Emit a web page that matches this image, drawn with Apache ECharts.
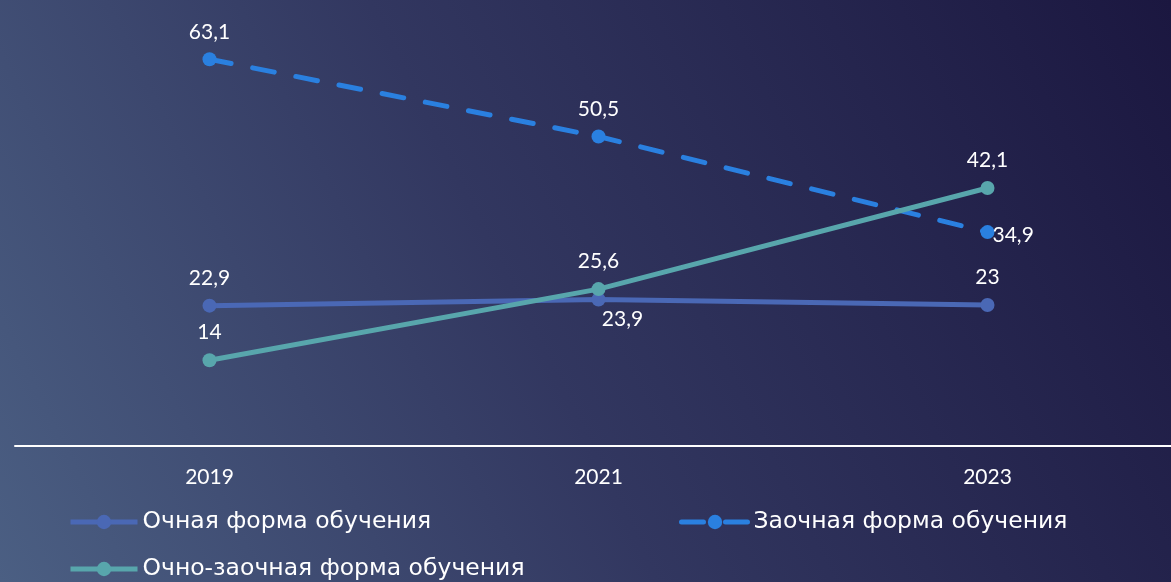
<!DOCTYPE html>
<html><head><meta charset="utf-8">
<script src="https://cdn.jsdelivr.net/npm/echarts@6/dist/echarts.min.js"></script>
<style>html,body{margin:0;padding:0;background:#2a2d55;}#c{width:1171px;height:582px;}</style>
</head><body><div id="c"></div>
<script>
const categories = ['2019', '2021', '2023'];
const fullTime = [22.9, 23.9, 23];
const extramural = [63.1, 50.5, 34.9];
const partTime = [14, 25.6, 42.1];
const seriesNames = ['Очная форма обучения', 'Заочная форма обучения', 'Очно-заочная форма обучения'];

const chart = echarts.init(document.getElementById('c'));
const font = 'Lato, "Open Sans", sans-serif';
const legendFont = '"DejaVu Sans", sans-serif';
const fmt = p => String(p.value).replace('.', ',');
const lbl = (pos) => ({show: true, position: pos, color: '#ffffff', fontSize: 21, fontFamily: font, formatter: fmt, distance: 10});

const legendBase = {
  itemWidth: 67, itemHeight: 18, itemGap: 10, padding: 0,
  lineStyle: {width: 5},
  textStyle: {color: '#ffffff', fontSize: 23.5, fontFamily: legendFont}
};

chart.setOption({
  backgroundColor: new echarts.graphic.LinearGradient(0, 1, 1, 0, [
    {offset: 0, color: '#4b5f83'},
    {offset: 0.45, color: '#323760'},
    {offset: 1, color: '#1b1740'}
  ]),
  animation: false,
  legend: [
    Object.assign({}, legendBase, {data: [seriesNames[0]], left: 68, top: 510}),
    Object.assign({}, legendBase, {data: [seriesNames[1]], left: 679, top: 510}),
    Object.assign({}, legendBase, {data: [seriesNames[2]], left: 68, top: 557})
  ],
  grid: {left: 15, width: 1167, top: 17, bottom: 136, containLabel: false, outerBoundsMode: 'none'},
  xAxis: {
    type: 'category', data: categories, boundaryGap: true,
    axisLine: {lineStyle: {color: '#ffffff', width: 2}},
    axisTick: {show: false},
    axisLabel: {color: '#ffffff', fontSize: 21, fontFamily: font, margin: 21}
  },
  yAxis: {type: 'value', min: 0, max: 70, show: false, splitLine: {show: false}},
  series: [
    {
      name: seriesNames[0], type: 'line',
      data: [
        {value: fullTime[0]},
        {value: fullTime[1], label: {position: 'bottom', offset: [24, -8]}},
        {value: fullTime[2]}
      ],
      symbol: 'circle', symbolSize: 14,
      lineStyle: {color: '#4a68b5', width: 5},
      itemStyle: {color: '#4a68b5'},
      label: lbl('top'),
      z: 2
    },
    {
      name: seriesNames[1], type: 'line',
      data: [
        {value: extramural[0]},
        {value: extramural[1]},
        {value: extramural[2], label: {position: 'right', offset: [-12, 3]}}
      ],
      symbol: 'circle', symbolSize: 14,
      lineStyle: {color: '#2a80e0', width: 5, type: [22, 22], cap: 'round'},
      itemStyle: {color: '#2a80e0'},
      label: lbl('top'),
      z: 3
    },
    {
      name: seriesNames[2], type: 'line', data: partTime,
      symbol: 'circle', symbolSize: 14,
      lineStyle: {color: '#58a6ac', width: 5},
      itemStyle: {color: '#58a6ac'},
      label: lbl('top'),
      z: 4
    }
  ]
});
</script></body></html>
